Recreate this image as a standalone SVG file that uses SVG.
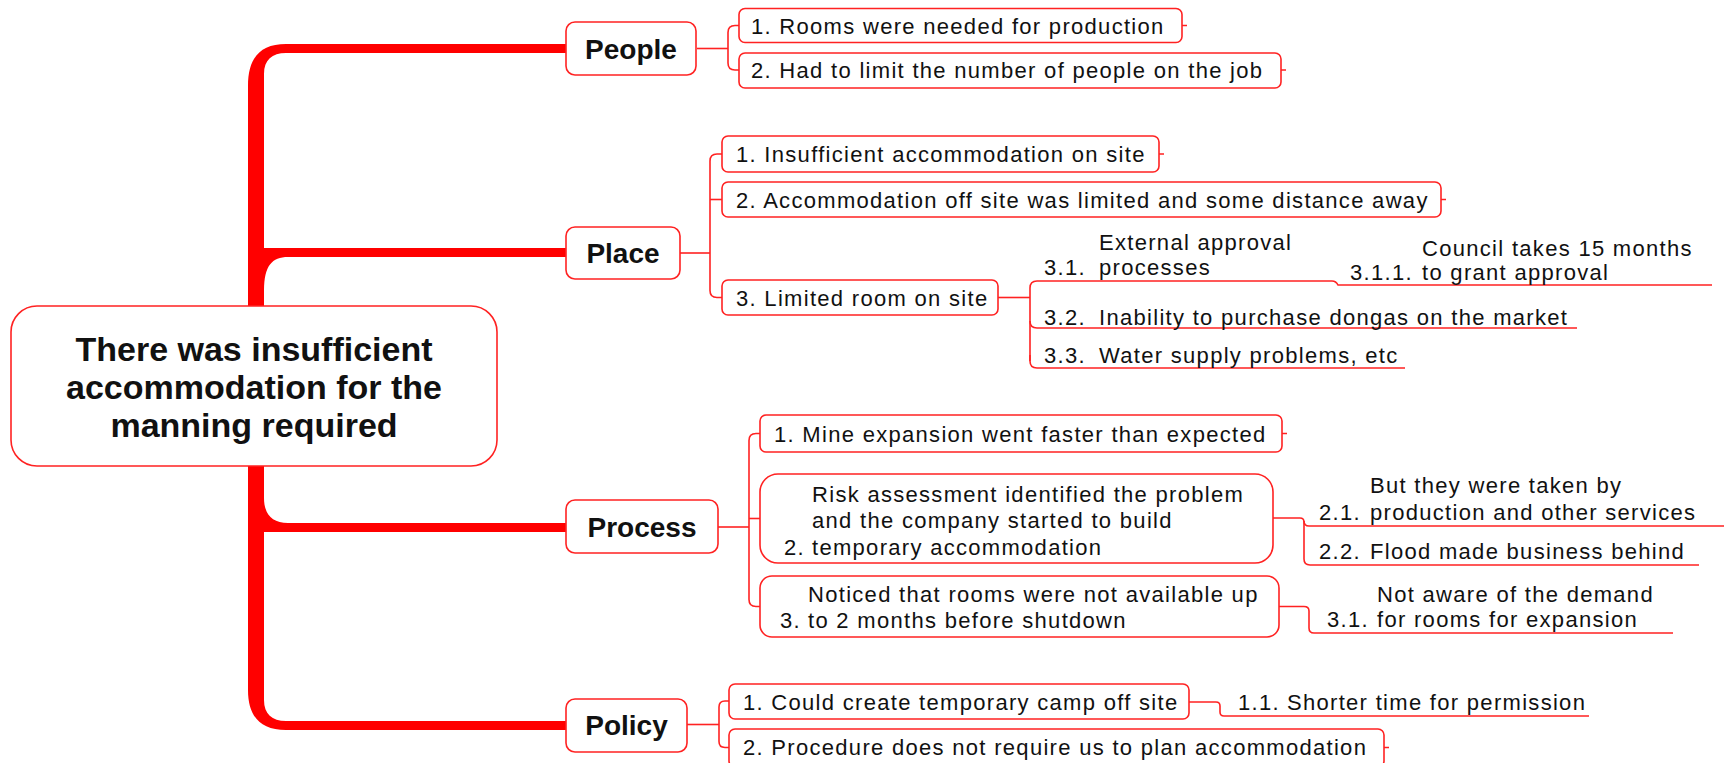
<svg xmlns="http://www.w3.org/2000/svg" width="1724" height="763" viewBox="0 0 1724 763">
  <style>
    .t{font-family:"Liberation Sans",Arial,sans-serif;font-size:22px;letter-spacing:1.3px;fill:#111}
    .b{font-family:"Liberation Sans",Arial,sans-serif;font-weight:bold;fill:#111;text-anchor:middle}
    .box{fill:#fff;stroke:#f22;stroke-width:1.6}
    .ln{fill:none;stroke:#f22;stroke-width:1.6}
    .trunk{fill:#f00}
  </style>
  <rect width="1724" height="763" fill="#fff"/>

  <!-- connectors -->
  <g id="connectors">
    <!-- tapered main branches from the central topic -->
    <path class="trunk" d="M248,386 V86 C248,58 260,44 286,44 H566 V53 H286 C272,53 264,60 264,74 V386 Z"/>
    <path class="trunk" d="M248,386 V248 H566 V257 H288 C272,257 264,266 264,290 V386 Z"/>
    <path class="trunk" d="M248,386 V532 H566 V523 H288 C272,523 264,514 264,498 V386 Z"/>
    <path class="trunk" d="M248,386 V690 C248,716 260,730 286,730 H566 V721 H286 C272,721 264,714 264,700 V386 Z"/>

    <!-- People brackets -->
    <path class="ln" d="M697,48.5 H728"/>
    <path class="ln" d="M739,25.5 H735 Q728,25.5 728,32.5 V63 Q728,70 735,70 H739"/>
    <!-- Place brackets -->
    <path class="ln" d="M680,253 H710"/>
    <path class="ln" d="M722,154 H717 Q710,154 710,161 V290.5 Q710,297.5 717,297.5 H722"/>
    <path class="ln" d="M710,199.5 H722"/>
    <!-- Place 3.x -->
    <path class="ln" d="M998,297.5 H1030"/>
    <path class="ln" d="M1030,361 V288 Q1030,281 1037,281 H1332 Q1336,281 1338,285 H1712"/>
    <path class="ln" d="M1030,321 Q1030,328 1037,328 H1577"/>
    <path class="ln" d="M1030,355 V361 Q1030,368 1037,368 H1405"/>
    <!-- Process brackets -->
    <path class="ln" d="M718,527 H749"/>
    <path class="ln" d="M760,433.5 H756 Q749,433.5 749,440.5 V599.5 Q749,606.5 756,606.5 H760"/>
    <path class="ln" d="M749,518.5 H760"/>
    <!-- Process 2.x and 3.1 -->
    <path class="ln" d="M1273,518 H1300 Q1304,518 1304,522 V559 Q1304,565 1310,565 H1699"/>
    <path class="ln" d="M1304,521 Q1304,526 1309,526 H1724"/>
    <path class="ln" d="M1279,606.5 H1304 Q1309,606.5 1309,611 V628 Q1309,633 1314,633 H1673"/>
    <!-- Policy brackets -->
    <path class="ln" d="M687,724.5 H719"/>
    <path class="ln" d="M729,701 H725 Q719,701 719,707 V741.5 Q719,747.5 725,747.5 H729"/>
    <path class="ln" d="M1189,702 H1216 Q1220,702 1220,706 V712 Q1220,716 1224,716 H1589"/>

    <!-- collapse stubs on leaf boxes -->
    <path class="ln" d="M1182,25.5 h5 M1281,70 h5 M1159,154 h5 M1441,199.5 h5 M1282,433.5 h5 M1384,747.5 h5"/>
  </g>

  <!-- central topic -->
  <g id="root">
    <rect class="box" x="11" y="306" width="486" height="160" rx="26"/>
    <text class="b" font-size="34" x="254" y="361">There was insufficient</text>
    <text class="b" font-size="34" x="254" y="399">accommodation for the</text>
    <text class="b" font-size="34" x="254" y="437">manning required</text>
  </g>

  <!-- People -->
  <g id="people">
    <rect class="box" x="566" y="22" width="130" height="53" rx="9"/>
    <text class="b" font-size="28" x="631" y="58.5">People</text>
  </g>
  <g id="people-1">
    <rect class="box" x="739" y="8.5" width="443" height="34" rx="6"/>
    <text class="t" x="751" y="33.5">1. Rooms were needed for production</text>
  </g>
  <g id="people-2">
    <rect class="box" x="739" y="53" width="542" height="35" rx="6"/>
    <text class="t" x="751" y="78">2. Had to limit the number of people on the job</text>
  </g>

  <!-- Place -->
  <g id="place">
    <rect class="box" x="566" y="227" width="114" height="52" rx="9"/>
    <text class="b" font-size="28" x="623" y="263">Place</text>
  </g>
  <g id="place-1">
    <rect class="box" x="722" y="136" width="437" height="36" rx="6"/>
    <text class="t" x="736" y="162">1. Insufficient accommodation on site</text>
  </g>
  <g id="place-2">
    <rect class="box" x="722" y="182" width="719" height="35" rx="6"/>
    <text class="t" x="736" y="207.5">2. Accommodation off site was limited and some distance away</text>
  </g>
  <g id="place-3">
    <rect class="box" x="722" y="280" width="276" height="35" rx="6"/>
    <text class="t" x="736" y="305.5">3. Limited room on site</text>
  </g>
  <g id="place-3-1">
    <text class="t" x="1099" y="250">External approval</text>
    <text class="t" x="1044" y="275">3.1.</text>
    <text class="t" x="1099" y="275">processes</text>
  </g>
  <g id="place-3-1-1">
    <text class="t" x="1422" y="256">Council takes 15 months</text>
    <text class="t" x="1350" y="280">3.1.1.</text>
    <text class="t" x="1422" y="280">to grant approval</text>
  </g>
  <g id="place-3-2">
    <text class="t" x="1044" y="325">3.2.</text>
    <text class="t" x="1099" y="325">Inability to purchase dongas on the market</text>
  </g>
  <g id="place-3-3">
    <text class="t" x="1044" y="363">3.3.</text>
    <text class="t" x="1099" y="363">Water supply problems, etc</text>
  </g>

  <!-- Process -->
  <g id="process">
    <rect class="box" x="566" y="500" width="152" height="53" rx="9"/>
    <text class="b" font-size="28" x="642" y="537">Process</text>
  </g>
  <g id="process-1">
    <rect class="box" x="760" y="415" width="522" height="37" rx="6"/>
    <text class="t" x="774" y="441.5">1. Mine expansion went faster than expected</text>
  </g>
  <g id="process-2">
    <rect class="box" x="760" y="474" width="513" height="89" rx="18"/>
    <text class="t" x="812" y="501.5">Risk assessment identified the problem</text>
    <text class="t" x="812" y="528">and the company started to build</text>
    <text class="t" x="784" y="554.5">2.</text>
    <text class="t" x="812" y="554.5">temporary accommodation</text>
  </g>
  <g id="process-2-1">
    <text class="t" x="1370" y="493">But they were taken by</text>
    <text class="t" x="1319" y="520">2.1.</text>
    <text class="t" x="1370" y="520">production and other services</text>
  </g>
  <g id="process-2-2">
    <text class="t" x="1319" y="559">2.2.</text>
    <text class="t" x="1370" y="559">Flood made business behind</text>
  </g>
  <g id="process-3">
    <rect class="box" x="760" y="576" width="519" height="61" rx="12"/>
    <text class="t" x="808" y="602">Noticed that rooms were not available up</text>
    <text class="t" x="780" y="628">3.</text>
    <text class="t" x="808" y="628">to 2 months before shutdown</text>
  </g>
  <g id="process-3-1">
    <text class="t" x="1377" y="602">Not aware of the demand</text>
    <text class="t" x="1327" y="627">3.1.</text>
    <text class="t" x="1377" y="627">for rooms for expansion</text>
  </g>

  <!-- Policy -->
  <g id="policy">
    <rect class="box" x="566" y="699" width="121" height="53" rx="9"/>
    <text class="b" font-size="28" x="626.5" y="735">Policy</text>
  </g>
  <g id="policy-1">
    <rect class="box" x="729" y="684" width="460" height="35" rx="6"/>
    <text class="t" x="743" y="709.5">1. Could create temporary camp off site</text>
  </g>
  <g id="policy-1-1">
    <text class="t" x="1238" y="710">1.1.</text>
    <text class="t" x="1287" y="710">Shorter time for permission</text>
  </g>
  <g id="policy-2">
    <rect class="box" x="729" y="729" width="655" height="38" rx="6"/>
    <text class="t" x="743" y="755">2. Procedure does not require us to plan accommodation</text>
  </g>
</svg>
